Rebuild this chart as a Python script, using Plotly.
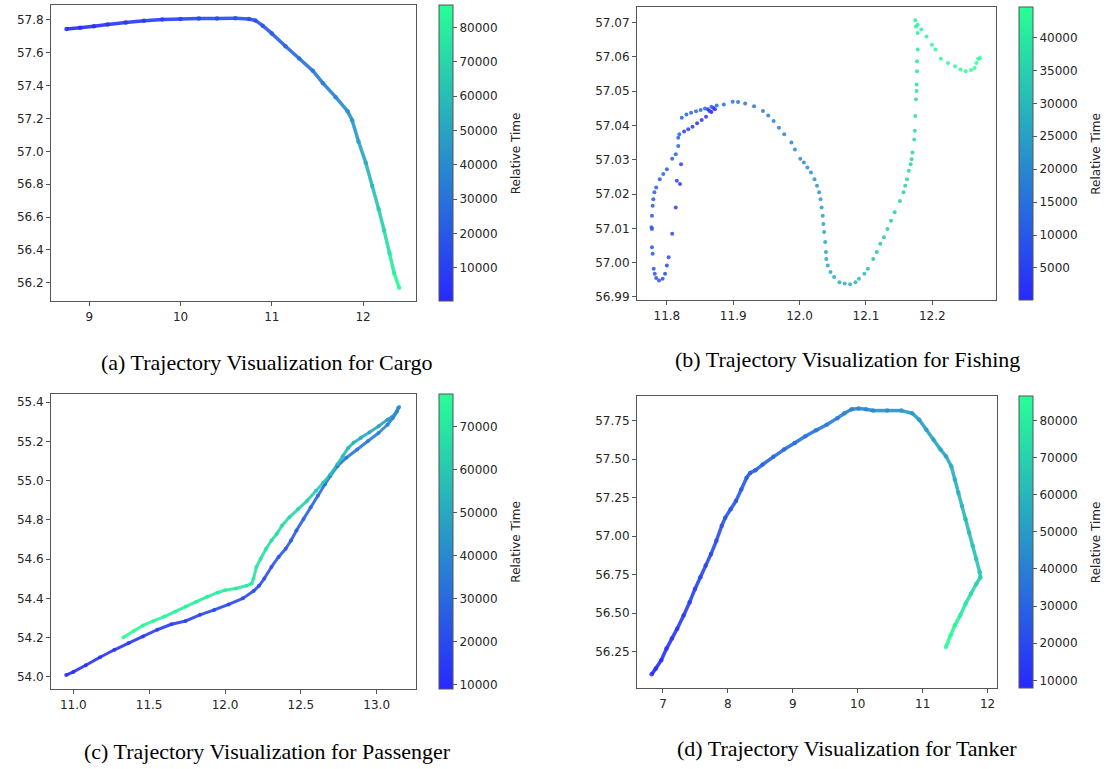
import plotly.graph_objects as go
from plotly.colors import sample_colorscale

# ---------------- data ----------------
cargo_lon = [8.75, 8.90, 9.05, 9.20, 9.40, 9.60, 9.80, 10.00, 10.20, 10.40, 10.60, 10.75, 10.82,
             10.90, 11.00, 11.15, 11.30, 11.45, 11.56, 11.70, 11.83, 11.88, 11.95, 12.03, 12.10,
             12.17, 12.23, 12.29, 12.34, 12.395]
cargo_lat = [57.745, 57.752, 57.762, 57.772, 57.784, 57.795, 57.802, 57.806, 57.808, 57.809, 57.810,
             57.806, 57.797, 57.765, 57.718, 57.640, 57.565, 57.490, 57.415, 57.330, 57.245, 57.190,
             57.060, 56.930, 56.790, 56.650, 56.520, 56.380, 56.260, 56.170]
cargo_time = [300, 1500, 2800, 4000, 5500, 7000, 8500, 10000, 11500, 13000, 14500, 15800, 16500,
              18500, 21000, 24500, 28000, 31500, 34000, 37500, 41000, 43500, 48000, 53000, 58500,
              64000, 70000, 76000, 81000, 85500]

fishing_lon = [11.8670, 11.8724, 11.8697, 11.8643, 11.8617, 11.8590, 11.8525, 11.8456, 11.8386,
               11.8322, 11.8260, 11.8214, 11.8198, 11.8150, 11.8134, 11.8080, 11.8027, 11.8000,
               11.7973, 11.7936, 11.7882, 11.7839, 11.7818, 11.7802, 11.7786, 11.7775, 11.7775,
               11.7769, 11.7775, 11.7786, 11.7796, 11.7812, 11.7839, 11.7893, 11.7946, 11.8000,
               11.8080, 11.8134, 11.8172, 11.8172, 11.8188, 11.8225, 11.8295, 11.8365, 11.8440,
               11.8509, 11.8574, 11.8670,
               11.8751, 11.8858, 11.8992, 11.9072, 11.9180, 11.9314, 11.9448, 11.9528, 11.9609,
               11.9689, 11.9769, 11.9877, 11.9930, 12.0011, 12.0064, 12.0118, 12.0172, 12.0225,
               12.0263, 12.0295, 12.0316, 12.0332, 12.0349, 12.0359, 12.0370, 12.0386, 12.0397,
               12.0402, 12.0424, 12.0466, 12.0520, 12.0601, 12.0681, 12.0761, 12.0842, 12.0895,
               12.0976, 12.1029, 12.1110, 12.1164, 12.1217, 12.1271, 12.1324, 12.1378, 12.1432,
               12.1512, 12.1566, 12.1592, 12.1619, 12.1646, 12.1673, 12.1689, 12.1700, 12.1727,
               12.1737, 12.1743, 12.1753, 12.1764, 12.1764, 12.1769, 12.1769, 12.1780, 12.1780,
               12.1753, 12.1743, 12.1780, 12.1834, 12.1914, 12.1995, 12.2048, 12.2129, 12.2236,
               12.2343, 12.2424, 12.2504, 12.2584, 12.2638, 12.2665, 12.2692, 12.2718]
fishing_lat = [57.0439, 57.0447, 57.0451, 57.0442, 57.0447, 57.0425, 57.0416, 57.0406, 57.0396,
               57.0389, 57.0382, 57.0287, 57.0229, 57.0239, 57.0161, 57.0084, 57.0016, 56.9992,
               56.9968, 56.9953, 56.9948, 56.9955, 56.9968, 56.9982, 57.0026, 57.0045, 57.0098,
               57.0103, 57.0137, 57.0166, 57.0185, 57.0205, 57.0219, 57.0243, 57.0258, 57.0272,
               57.0303, 57.0316, 57.0340, 57.0364, 57.0374, 57.0422, 57.0432, 57.0437, 57.0441,
               57.0445, 57.0449, 57.0454,
               57.0458, 57.0461, 57.0469, 57.0468, 57.0464, 57.0456, 57.0442, 57.0429, 57.0413,
               57.0393, 57.0374, 57.0350, 57.0330, 57.0303, 57.0292, 57.0277, 57.0263, 57.0243,
               57.0224, 57.0205, 57.0185, 57.0161, 57.0137, 57.0113, 57.0089, 57.0060, 57.0031,
               57.0011, 56.9992, 56.9973, 56.9958, 56.9943, 56.9939, 56.9937, 56.9943, 56.9953,
               56.9968, 56.9982, 57.0011, 57.0031, 57.0055, 57.0074, 57.0098, 57.0122, 57.0147,
               57.0180, 57.0205, 57.0224, 57.0243, 57.0268, 57.0287, 57.0301, 57.0321, 57.0359,
               57.0384, 57.0427, 57.0476, 57.0500, 57.0519, 57.0558, 57.0587, 57.0621, 57.0669,
               57.0688, 57.0706, 57.0693, 57.0679, 57.0659, 57.0635, 57.0621, 57.0594, 57.0582,
               57.0572, 57.0563, 57.0558, 57.0561, 57.0567, 57.0582, 57.0594, 57.0596]
fishing_time = [200, 500, 800, 1100, 1400, 1800, 2200, 2600, 3000, 3400, 3800, 4600, 5000, 5300,
                5700, 6100, 6500, 6800, 7100, 7400, 7700, 8000, 8300, 8600, 8900, 9200, 9500, 9700,
                9900, 10100, 10300, 10500, 10700, 10900, 11100, 11300, 11500, 11700, 11900, 12000,
                12100, 12300, 12500, 12700, 12900, 13000, 13100, 13300,
                13500, 14000, 14600, 15000, 15500, 16200, 16900, 17400, 17900, 18400, 18900, 19600,
                20000, 20600, 21000, 21400, 21800, 22300, 22700, 23100, 23500, 23900, 24300, 24700,
                25100, 25500, 25900, 26200, 26600, 27000, 27400, 27900, 28300, 28700, 29100, 29500,
                30000, 30400, 30900, 31300, 31700, 32100, 32500, 32900, 33300, 33800, 34200, 34500,
                34800, 35100, 35400, 35700, 36000, 36600, 37000, 37600, 38200, 38600, 38900, 39400,
                39800, 40200, 40800, 41100, 41400, 41700, 42000, 42400, 42800, 43100, 43500, 43800,
                44000, 44100, 44200, 44300, 44350, 44400, 44450, 44500]

passenger_lon = [10.953, 11.000, 11.082, 11.176, 11.271, 11.365, 11.459, 11.553, 11.647, 11.741,
                 11.835, 11.929, 12.024, 12.118, 12.188, 12.224, 12.259, 12.306, 12.353, 12.400,
                 12.435, 12.471, 12.518, 12.565, 12.612, 12.659, 12.694, 12.741, 12.800, 12.871,
                 12.941, 13.012, 13.071, 13.106, 13.134, 13.148,
                 13.141, 13.118, 13.071, 13.012, 12.953, 12.894, 12.847, 12.812, 12.776, 12.741,
                 12.694, 12.647, 12.600, 12.541, 12.482, 12.424, 12.376, 12.341, 12.306, 12.271,
                 12.235, 12.207, 12.188, 12.176, 12.141, 12.071, 12.000, 11.953, 11.882, 11.812,
                 11.741, 11.671, 11.600, 11.529, 11.459, 11.400, 11.329]
passenger_lat = [54.009, 54.025, 54.059, 54.100, 54.138, 54.172, 54.206, 54.240, 54.268, 54.285,
                 54.316, 54.341, 54.369, 54.400, 54.437, 54.464, 54.501, 54.560, 54.611, 54.653,
                 54.695, 54.746, 54.805, 54.864, 54.923, 54.982, 55.024, 55.074, 55.117, 55.159,
                 55.201, 55.243, 55.285, 55.319, 55.353, 55.375,
                 55.370, 55.336, 55.311, 55.277, 55.247, 55.218, 55.193, 55.167, 55.125, 55.083,
                 55.032, 54.990, 54.948, 54.897, 54.855, 54.813, 54.771, 54.729, 54.695, 54.653,
                 54.602, 54.560, 54.501, 54.476, 54.464, 54.450, 54.442, 54.430, 54.408, 54.383,
                 54.358, 54.332, 54.307, 54.285, 54.262, 54.235, 54.201]
passenger_time = [9500, 10200, 11000, 12000, 12800, 13600, 14400, 15200, 16000, 16800, 17600, 18400,
                  19200, 20000, 20800, 21400, 22000, 23000, 24000, 24800, 25600, 26600, 27600, 28600,
                  29600, 30600, 31400, 32400, 33400, 34400, 35400, 36400, 37400, 38400, 39400, 40400,
                  42000, 44000, 46000, 48000, 49500, 51000, 52500, 54000, 55500, 57000, 58500, 60000,
                  61200, 62400, 63500, 64500, 65300, 66000, 66800, 67500, 68200, 68900, 69500, 70000,
                  70500, 71000, 71500, 71900, 72400, 72900, 73400, 73900, 74400, 74900, 75400, 75900,
                  76500]

tanker_lon = [6.825, 6.890, 6.973, 7.055, 7.137, 7.219, 7.318, 7.411, 7.493, 7.576, 7.658, 7.740,
              7.822, 7.905, 7.959, 8.042, 8.124, 8.206, 8.288, 8.343, 8.425, 8.535, 8.700, 8.864,
              9.029, 9.193, 9.357, 9.522, 9.686, 9.796, 9.906, 10.015, 10.125, 10.235, 10.454,
              10.673, 10.838, 10.947, 11.057, 11.167, 11.276, 11.359, 11.441, 11.496, 11.550,
              11.605, 11.660, 11.715, 11.770, 11.825, 11.879, 11.890, 11.825, 11.742, 11.660,
              11.578, 11.496, 11.430, 11.359]
tanker_lat = [56.104, 56.142, 56.196, 56.271, 56.336, 56.400, 56.486, 56.572, 56.658, 56.733, 56.809,
              56.884, 56.970, 57.067, 57.120, 57.174, 57.228, 57.303, 57.378, 57.410, 57.428, 57.464,
              57.514, 57.561, 57.604, 57.647, 57.686, 57.722, 57.765, 57.797, 57.823, 57.827, 57.823,
              57.814, 57.814, 57.814, 57.797, 57.754, 57.690, 57.625, 57.561, 57.518, 57.453, 57.367,
              57.281, 57.196, 57.110, 57.024, 56.938, 56.852, 56.766, 56.733, 56.690, 56.626, 56.561,
              56.486, 56.422, 56.357, 56.282]
tanker_time = [8500, 9500, 10500, 11500, 12500, 13500, 14800, 16000, 17000, 18000, 19000, 20000,
               21000, 22200, 23000, 24000, 25000, 26000, 27000, 27800, 28600, 29600, 31000, 32400,
               33800, 35200, 36600, 38000, 39400, 40400, 41300, 42200, 43100, 44000, 45800, 47600,
               49000, 50200, 51400, 52600, 53800, 54700, 55700, 57000, 58300, 59600, 60900, 62200,
               63500, 64800, 66100, 67000, 70000, 73500, 77000, 80000, 82500, 84500, 86300]

captions = ["(a) Trajectory Visualization for Cargo",
            "(b) Trajectory Visualization for Fishing",
            "(c) Trajectory Visualization for Passenger",
            "(d) Trajectory Visualization for Tanker"]
colorbar_title = "Relative Time"

# ---------------- styling ----------------
W, H = 1106, 769
WINTER = [[0.0, 'rgb(40,40,255)'], [1.0, 'rgb(40,255,150)']]
TICKFONT = dict(family='DejaVu Sans', size=12, color='#262626')
AXCOL = '#555555'

panels = [
    dict(lon=cargo_lon, lat=cargo_lat, t=cargo_time,
         xr=[8.58, 12.58], yr=[56.087, 57.891],
         xt=[9, 10, 11, 12], xf='d', yt=[56.2, 56.4, 56.6, 56.8, 57.0, 57.2, 57.4, 57.6, 57.8], yf='.1f',
         box=(51, 5, 416, 303), cb=439, cr=(250, 86450), ctx=516,
         ct=[10000, 20000, 30000, 40000, 50000, 60000, 70000, 80000], lw=3.5, ms=4.5,
         cap=(266, 364)),
    dict(lon=fishing_lon, lat=fishing_lat, t=fishing_time,
         xr=[11.755, 12.296], yr=[56.989, 57.0745],
         xt=[11.8, 11.9, 12.0, 12.1, 12.2], xf='.1f',
         yt=[56.99, 57.0, 57.01, 57.02, 57.03, 57.04, 57.05, 57.06, 57.07], yf='.2f',
         box=(637, 7, 996, 302), cb=1019, cr=(100, 44600), ctx=1096,
         ct=[5000, 10000, 15000, 20000, 25000, 30000, 35000, 40000], lw=0, ms=4,
         cap=(847, 361)),
    dict(lon=passenger_lon, lat=passenger_lat, t=passenger_time,
         xr=[10.853, 13.259], yr=[53.936, 55.442],
         xt=[11.0, 11.5, 12.0, 12.5, 13.0], xf='.1f', yt=[54.0, 54.2, 54.4, 54.6, 54.8, 55.0, 55.2, 55.4], yf='.1f',
         box=(51, 396, 416, 693), cb=439, cr=(8900, 77500), ctx=516,
         ct=[10000, 20000, 30000, 40000, 50000, 60000, 70000], lw=3, ms=4,
         cap=(267, 755)),
    dict(lon=tanker_lon, lat=tanker_lat, t=tanker_time,
         xr=[6.60, 12.145], yr=[56.013, 57.909],
         xt=[7, 8, 9, 10, 11, 12], xf='d', yt=[56.25, 56.5, 56.75, 57.0, 57.25, 57.5, 57.75], yf='.2f',
         box=(637, 398, 997, 692), cb=1019, cr=(7900, 86500), ctx=1096,
         ct=[10000, 20000, 30000, 40000, 50000, 60000, 70000, 80000], lw=3.5, ms=4.5,
         cap=(847, 752)),
]

fig = go.Figure()
layout = dict(width=W, height=H, margin=dict(l=0, r=0, t=0, b=0),
              paper_bgcolor='white', plot_bgcolor='white', showlegend=False,
              annotations=[])

for i, p in enumerate(panels):
    k = '' if i == 0 else str(i + 1)
    xa, ya, ca = 'x' + k, 'y' + k, 'coloraxis' + k
    x0, y0, x1, y1 = p['box']
    cmin, cmax = p['cr']
    # coloured line segments joining consecutive points
    if p['lw'] > 0:
        for j in range(len(p['lon']) - 1):
            tm = 0.5 * (p['t'][j] + p['t'][j + 1])
            col = sample_colorscale(WINTER, [(tm - cmin) / (cmax - cmin)])[0]
            fig.add_trace(go.Scatter(x=p['lon'][j:j + 2], y=p['lat'][j:j + 2], mode='lines',
                                     line=dict(color=col, width=p['lw']), opacity=0.9,
                                     hoverinfo='skip', xaxis=xa, yaxis=ya))
    fig.add_trace(go.Scatter(x=p['lon'], y=p['lat'], mode='markers',
                             marker=dict(color=p['t'], coloraxis=ca, size=p['ms'], opacity=0.85,
                                         line=dict(width=0)),
                             xaxis=xa, yaxis=ya))
    axkw = dict(showgrid=False, zeroline=False, showline=True, mirror=True, linecolor=AXCOL,
                linewidth=1, ticks='outside', ticklen=4, tickcolor=AXCOL, tickfont=TICKFONT)
    layout['xaxis' + k] = dict(domain=[x0 / W, x1 / W], range=p['xr'], tickvals=p['xt'],
                               tickformat=p['xf'], anchor=ya, **axkw)
    layout['yaxis' + k] = dict(domain=[1 - y1 / H, 1 - y0 / H], range=p['yr'], tickvals=p['yt'],
                               tickformat=p['yf'], anchor=xa, **axkw)
    layout[ca] = dict(cmin=cmin, cmax=cmax, colorscale=WINTER,
                      colorbar=dict(x=p['cb'] / W, xanchor='left', xpad=0,
                                    y=1 - (y0 + y1) / 2 / H, yanchor='middle', ypad=0,
                                    len=(y1 - y0) / H, lenmode='fraction',
                                    thickness=14, thicknessmode='pixels',
                                    outlinewidth=1, outlinecolor=AXCOL,
                                    ticks='outside', ticklen=4, tickcolor=AXCOL,
                                    tickvals=p['ct'], tickformat='d', tickfont=TICKFONT))
    # colour-bar title, rotated, to the right of the tick labels
    layout['annotations'].append(dict(text=colorbar_title, x=p['ctx'] / W, y=1 - (y0 + y1) / 2 / H,
                                      xref='paper', yref='paper', xanchor='center', yanchor='middle',
                                      textangle=-90, showarrow=False, font=TICKFONT))
    cx, cy = p['cap']
    layout['annotations'].append(dict(text=captions[i], x=cx / W, y=1 - cy / H, xref='paper',
                                      yref='paper', xanchor='center', yanchor='middle',
                                      showarrow=False,
                                      font=dict(family='Liberation Serif', size=22, color='black')))

fig.update_layout(**layout)
fig.write_html("out.html", config={'displayModeBar': False},
               post_script="document.body.style.margin='0px';document.body.style.overflow='hidden';")
